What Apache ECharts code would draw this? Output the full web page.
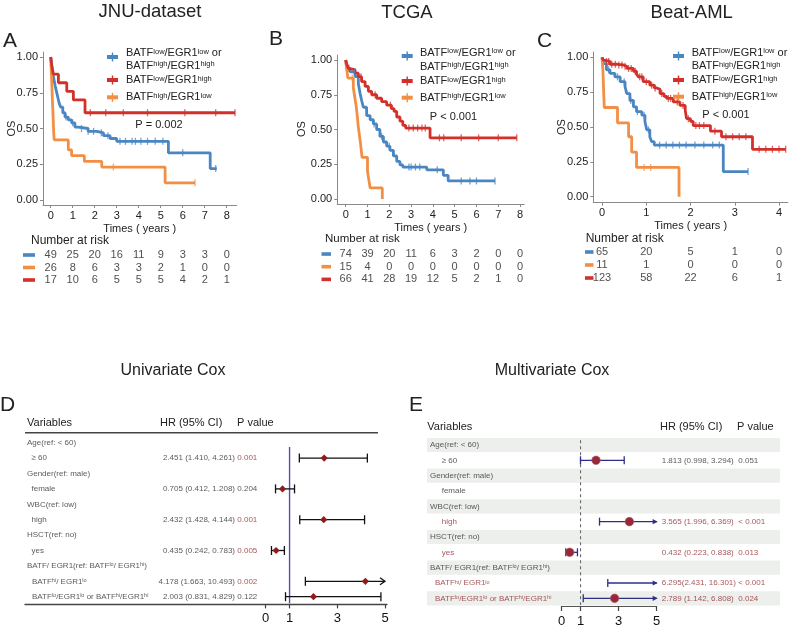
<!DOCTYPE html>
<html>
<head>
<meta charset="utf-8">
<script src="https://cdn.jsdelivr.net/npm/echarts@6.0.0/dist/echarts.min.js"></script>
<style>
html,body{margin:0;padding:0;background:#ffffff;}
#chart{width:790px;height:631px;}
</style>
</head>
<body>
<div id="chart"></div>
<script>
// ================= DATA =================
const jnuBlue = [[0,1],[0.03,0.96],[0.06,0.92],[0.1,0.88],[0.15,0.84],[0.2,0.8],[0.26,0.76],[0.32,0.72],[0.38,0.68],[0.45,0.65],[0.55,0.61],[0.65,0.58],[0.8,0.56],[0.95,0.54],[1.1,0.51],[1.25,0.5],[1.7,0.48],[2.1,0.47],[2.4,0.45],[2.7,0.43],[3.0,0.41],[5.35,0.33],[7.25,0.22],[7.55,0.22]];
const jnuRed = [[0,1],[0.05,0.94],[0.12,0.88],[0.35,0.82],[0.73,0.76],[1.03,0.7],[1.56,0.61],[8.38,0.61]];
const jnuOrange = [[0,1],[0.02,0.92],[0.04,0.85],[0.06,0.77],[0.08,0.69],[0.1,0.62],[0.12,0.54],[0.14,0.46],[0.16,0.42],[0.8,0.35],[0.95,0.31],[1.53,0.27],[2.32,0.23],[5.2,0.12],[6.56,0.12]];
const jnuBlueCens = [0.7,1.0,1.4,1.7,1.95,2.3,2.6,3.15,3.4,3.7,3.85,4.1,4.4,4.75,5.1,6.0,7.5];
const jnuRedCens = [1.8,2.5,3.3,4.4,6.1,7.5,8.38];
const jnuOrangeCens = [2.85,6.56];

const tcgaBlue = [[0,1],[0.05,0.94],[0.2,0.915],[0.43,0.88],[0.58,0.83],[0.66,0.76],[0.73,0.71],[0.81,0.66],[0.96,0.6],[1.12,0.57],[1.27,0.54],[1.42,0.5],[1.57,0.45],[1.73,0.41],[1.88,0.38],[2.03,0.35],[2.19,0.31],[2.34,0.27],[2.49,0.245],[2.62,0.23],[3.72,0.21],[4.48,0.17],[4.7,0.13],[6.85,0.13]];
const tcgaRed = [[0,1],[0.05,0.97],[0.12,0.94],[0.2,0.93],[0.43,0.905],[0.58,0.88],[0.73,0.845],[0.89,0.81],[1.04,0.775],[1.19,0.75],[1.42,0.725],[1.65,0.7],[1.88,0.675],[2.1,0.65],[2.22,0.63],[2.34,0.59],[2.49,0.56],[2.62,0.53],[2.75,0.51],[3.87,0.44],[7.85,0.44]];
const tcgaOrange = [[0,1],[0.05,0.93],[0.1,0.87],[0.35,0.8],[0.42,0.73],[0.48,0.67],[0.53,0.6],[0.57,0.53],[0.62,0.47],[0.68,0.4],[0.75,0.3],[1.0,0.2],[1.05,0.15],[1.12,0.08],[1.68,0]];
const tcgaBlueCens = [0.4,1.3,1.65,2.0,2.9,3.0,3.2,3.4,4.2,5.3,5.7,6.0,6.85];
const tcgaRedCens = [0.15,0.7,1.35,2.05,2.9,3.1,3.3,3.5,3.65,4.3,4.5,5.3,6.1,7.0,7.85];
const tcgaOrangeCens = [0.3];

const beatBlue = [[0,1],[0.03,0.955],[0.1,0.91],[0.18,0.885],[0.29,0.86],[0.41,0.825],[0.52,0.79],[0.56,0.74],[0.63,0.69],[0.71,0.645],[0.78,0.61],[0.9,0.585],[0.97,0.54],[1.01,0.48],[1.08,0.43],[1.12,0.395],[1.18,0.37],[2.74,0.18],[3.3,0.18]];
const beatRed = [[0,1],[0.03,0.98],[0.07,0.97],[0.18,0.95],[0.35,0.945],[0.48,0.935],[0.56,0.92],[0.71,0.9],[0.78,0.88],[0.82,0.86],[0.93,0.825],[1.08,0.8],[1.18,0.78],[1.24,0.77],[1.31,0.74],[1.4,0.72],[1.46,0.705],[1.61,0.68],[1.76,0.655],[1.88,0.62],[1.91,0.56],[2.0,0.54],[2.06,0.51],[2.45,0.47],[2.7,0.43],[3.4,0.34],[4.15,0.34]];
const beatOrange = [[0,1],[0.02,0.91],[0.03,0.82],[0.04,0.73],[0.05,0.64],[0.35,0.53],[0.6,0.43],[0.67,0.32],[0.78,0.21],[1.74,0]];
const beatBlueCens = [0.15,0.35,0.5,0.65,0.8,0.95,1.05,1.3,1.45,1.6,1.75,1.9,2.1,2.3,2.5,2.65,3.3];
const beatRedCens = [0.1,0.15,0.22,0.3,0.38,0.45,0.52,0.6,0.66,0.75,0.85,0.9,1.0,1.12,1.2,1.35,1.5,1.55,1.7,1.83,1.95,2.12,2.2,2.3,2.55,2.8,2.95,3.1,3.25,3.55,3.7,3.85,4.0,4.15];
const beatOrangeCens = [0.95,1.1];

const riskTimes8 = [0,1,2,3,4,5,6,7,8];
const riskTimes4 = [0,1,2,3,4];
const jnuRiskBlue = [49,25,20,16,11,9,3,3,0];
const jnuRiskOrange = [26,8,6,3,3,2,1,0,0];
const jnuRiskRed = [17,10,6,5,5,5,4,2,1];
const tcgaRiskBlue = [74,39,20,11,6,3,2,0,0];
const tcgaRiskOrange = [15,4,0,0,0,0,0,0,0];
const tcgaRiskRed = [66,41,28,19,12,5,2,1,0];
const beatRiskBlue = [65,20,5,1,0];
const beatRiskOrange = [11,1,0,0,0];
const beatRiskRed = [123,58,22,6,1];

const kmXTicks8 = [0,1,2,3,4,5,6,7,8];
const kmXTicks4 = [0,1,2,3,4];
const kmYTicks = [0,0.25,0.5,0.75,1];
const pTexts = ['P = 0.002','P < 0.001','P < 0.001'];
const panelTitles = ['JNU-dataset','TCGA','Beat-AML'];
const legendLabels = [['BATF{s|low}/EGR1{s|low} or','BATF{s|high}/EGR1{s|high}'],['BATF{s|low}/EGR1{s|high}'],['BATF{s|high}/EGR1{s|low}']];

const coxRows = ['Age(ref: < 60)','≥ 60','Gender(ref: male)','female','WBC(ref: low)','high','HSCT(ref: no)','yes','BATF/ EGR1(ref: BATF{s|lo}/ EGR1{s|hi})','BATF{s|hi}/ EGR1{s|lo}','BATF{s|lo}/EGR1{s|lo} or BATF{s|hi}/EGR1{s|hi}'];
const coxRowLevel = [0,1,0,1,0,1,0,1,0,2,2];
const uniHR = [null,2.451,null,0.705,null,2.432,null,0.435,null,4.178,2.003];
const uniLo = [null,1.410,null,0.412,null,1.428,null,0.242,null,1.663,0.831];
const uniHi = [null,4.261,null,1.208,null,4.144,null,0.783,null,10.493,4.829];
const uniHRText = ['','2.451 (1.410, 4.261)','','0.705 (0.412, 1.208)','','2.432 (1.428, 4.144)','','0.435 (0.242, 0.783)','','4.178 (1.663, 10.493)','2.003 (0.831, 4.829)'];
const uniP = ['','0.001','','0.204','','0.001','','0.005','','0.002','0.122'];
const uniSig = [0,1,0,0,0,1,0,1,0,1,0];
const multiHR = [null,1.813,null,null,null,3.565,null,0.432,null,6.295,2.789];
const multiLo = [null,0.998,null,null,null,1.996,null,0.223,null,2.431,1.142];
const multiHi = [null,3.294,null,null,null,6.369,null,0.838,null,16.301,6.808];
const multiHRText = ['','1.813 (0.998, 3.294)','','','','3.565 (1.996, 6.369)','','0.432 (0.223, 0.838)','','6.295(2.431, 16.301)','2.789 (1.142, 6.808)'];
const multiP = ['','0.051','','','','< 0.001','','0.013','','< 0.001','0.024'];
const multiSig = [0,0,0,0,0,1,0,1,0,1,1];
const forestTicks = [0,1,3,5];
const coxHeaders = ['Variables','HR (95% CI)','P value'];
const coxTitles = ['Univariate Cox','Multivariate Cox'];

// ================= STYLE / LAYOUT =================
const FONT = '"Liberation Sans", Arial, Helvetica, sans-serif';
const COL = {blue:'#4A86C1', red:'#D3302B', orange:'#F28F45'};
const DARK = '#222222';
const GREYTXT = '#2f2f2f';
const SIGC = '#8E2B2E';

const grids = [], xAxes = [], yAxes = [], series = [], graphics = [];

function survAt(curve, t){
  let s = curve[0][1];
  for (const p of curve){ if (p[0] <= t + 1e-9) s = p[1]; else break; }
  return s;
}
function txt(x, y, text, o){
  o = o || {};
  return {type:'text', x:x, y:y, rotation:o.rot||0, silent:true, z:50,
    style:{text:text, fill:o.fill||DARK, fontSize:o.size||11, fontFamily:FONT,
      align:o.align||'left', verticalAlign:o.va||'middle', rich:o.rich}};
}

const kmPanels = [
  {letter:'A', letterX:3, letterY:41, titleX:150, titleY:12,
   grid:{left:43, top:52, width:193.6, height:153}, xr:[-0.35,8.45], yr:[-0.035,1.035], xTicks:kmXTicks8, nameGap:18,
   curves:{blue:jnuBlue, orange:jnuOrange, red:jnuRed}, cens:{blue:jnuBlueCens, orange:jnuOrangeCens, red:jnuRedCens},
   risk:{blue:jnuRiskBlue, orange:jnuRiskOrange, red:jnuRiskRed}, riskT:riskTimes8, riskGrid:{top:248.75, height:37.5},
   lg:{sx:107, tx:126, l1:53.3, l2:65.5, ks:57, kr:80, ko:97.3}, pX:159, pY:125, os:[12,128.5], nar:[31,241,12], dash:[23,12]},
  {letter:'B', letterX:269, letterY:39, titleX:407, titleY:13,
   grid:{left:337.2, top:55, width:187, height:149}, xr:[-0.39,8.19], yr:[-0.036,1.036], xTicks:kmXTicks8, nameGap:18,
   curves:{blue:tcgaBlue, orange:tcgaOrange, red:tcgaRed}, cens:{blue:tcgaBlueCens, orange:tcgaOrangeCens, red:tcgaRedCens},
   risk:{blue:tcgaRiskBlue, orange:tcgaRiskOrange, red:tcgaRiskRed}, riskT:riskTimes8, riskGrid:{top:247.7, height:38},
   lg:{sx:401.7, tx:420, l1:52.7, l2:66.7, ks:56, kr:81, ko:97.7}, pX:453.5, pY:117, os:[302,129], nar:[325,239,11.5], dash:[321.5,9.5]},
  {letter:'C', letterX:537, letterY:41, titleX:691.7, titleY:13,
   grid:{left:593.3, top:52, width:194.6, height:150.7}, xr:[-0.197,4.2], yr:[-0.043,1.038], xTicks:kmXTicks4, nameGap:17.5,
   curves:{blue:beatBlue, orange:beatOrange, red:beatRed}, cens:{blue:beatBlueCens, orange:beatOrangeCens, red:beatRedCens},
   risk:{blue:beatRiskBlue, orange:beatRiskOrange, red:beatRiskRed}, riskT:riskTimes4, riskGrid:{top:245.5, height:39},
   lg:{sx:673, tx:691.7, l1:52.7, l2:66, ks:56, kr:80, ko:96.7}, pX:726, pY:115, os:[561.7,127], nar:[585.7,239,12], dash:[585,8.5]}
];

const groups = ['blue','orange','red'];

kmPanels.forEach((P, pi) => {
  const gi = grids.length;
  grids.push(Object.assign({outerBoundsMode:'none', containLabel:false}, P.grid));
  const xi = xAxes.length, yi = yAxes.length;
  xAxes.push({gridIndex:gi, type:'value', min:P.xr[0], max:P.xr[1], position:'bottom',
    axisLine:{show:true, onZero:false, lineStyle:{color:'#8a8a8a', width:1}},
    axisTick:{show:true, customValues:P.xTicks, length:3, lineStyle:{color:'#8a8a8a'}},
    axisLabel:{show:true, customValues:P.xTicks, fontSize:11, color:DARK, margin:5, fontFamily:FONT},
    splitLine:{show:false},
    name:'Times ( years )', nameLocation:'middle', nameGap:P.nameGap,
    nameTextStyle:{fontSize:11, color:DARK, fontFamily:FONT}});
  yAxes.push({gridIndex:gi, type:'value', min:P.yr[0], max:P.yr[1], position:'left',
    axisLine:{show:true, onZero:false, lineStyle:{color:'#8a8a8a', width:1}},
    axisTick:{show:true, customValues:kmYTicks, length:3, lineStyle:{color:'#8a8a8a'}},
    axisLabel:{show:true, customValues:kmYTicks, fontSize:11, color:DARK, margin:5, fontFamily:FONT,
      formatter:v => Number(v).toFixed(2)},
    splitLine:{show:false}});
  groups.forEach(g => {
    series.push({type:'line', xAxisIndex:xi, yAxisIndex:yi, data:P.curves[g], step:'end',
      symbol:'none', silent:true, z:3, lineStyle:{color:COL[g], width:2.8}});
    series.push({type:'scatter', xAxisIndex:xi, yAxisIndex:yi, silent:true, z:4,
      data:P.cens[g].map(t => [t, survAt(P.curves[g], t)]),
      symbol:'rect', symbolSize:[1.3,7], itemStyle:{color:COL[g], opacity:0.75}});
  });

  const rg = grids.length;
  grids.push({outerBoundsMode:'none', containLabel:false, left:P.grid.left, width:P.grid.width, top:P.riskGrid.top, height:P.riskGrid.height});
  const rxi = xAxes.length, ryi = yAxes.length;
  xAxes.push({gridIndex:rg, type:'value', min:P.xr[0], max:P.xr[1], show:false});
  yAxes.push({gridIndex:rg, type:'value', min:-0.5, max:2.5, inverse:true, show:false});
  groups.forEach((g, gk) => {
    series.push({type:'scatter', xAxisIndex:rxi, yAxisIndex:ryi, silent:true, symbolSize:0.1,
      itemStyle:{color:'rgba(0,0,0,0)'}, z:5,
      data:P.risk[g].map((n, k) => [P.riskT[k], gk, n]),
      label:{show:true, position:'inside', formatter:p => String(p.value[2]), fontSize:11, color:DARK, fontFamily:FONT}});
    const rowH = P.riskGrid.height / 3;
    const yy = P.riskGrid.top + rowH * (gk + 0.5);
    graphics.push({type:'rect', silent:true, z:50, shape:{x:P.dash[0], y:yy - 1.8, width:P.dash[1], height:3.6}, style:{fill:COL[g]}});
  });
  graphics.push(txt(P.nar[0], P.nar[1], 'Number at risk', {size:P.nar[2]}));

  graphics.push(txt(P.titleX, P.titleY, panelTitles[pi], {size:18.5, align:'center'}));
  graphics.push(txt(P.letterX, P.letterY, P.letter, {size:21}));
  graphics.push(txt(P.os[0], P.os[1], 'OS', {size:11, align:'center', rot:Math.PI/2}));
  graphics.push(txt(P.pX, P.pY, pTexts[pi], {size:11, align:'center'}));

  const rich = {s:{fontSize:7.5, verticalAlign:'top', fontFamily:FONT, fill:DARK}};
  const keys = [[COL.blue, P.lg.ks], [COL.red, P.lg.kr], [COL.orange, P.lg.ko]];
  keys.forEach(k => {
    graphics.push({type:'rect', silent:true, z:50, shape:{x:P.lg.sx, y:k[1]-2, width:11, height:4}, style:{fill:k[0]}});
    graphics.push({type:'line', silent:true, z:51, shape:{x1:P.lg.sx+5.5, y1:k[1]-4.5, x2:P.lg.sx+5.5, y2:k[1]+4.5}, style:{stroke:k[0], lineWidth:1.4}});
  });
  graphics.push(txt(P.lg.tx, P.lg.l1, legendLabels[0][0], {size:11, rich:rich}));
  graphics.push(txt(P.lg.tx, P.lg.l2, legendLabels[0][1], {size:11, rich:rich}));
  graphics.push(txt(P.lg.tx, P.lg.kr, legendLabels[1][0], {size:11, rich:rich}));
  graphics.push(txt(P.lg.tx, P.lg.ko, legendLabels[2][0], {size:11, rich:rich}));
});

// ================= FOREST PLOTS =================
const NROW = coxRows.length;
const SUPRICH = {s:{fontSize:5.5, verticalAlign:'top', fontFamily:FONT}};

function forestRender(st){
  return function(params, api){
    const lo = api.value(0), hr = api.value(1), hi = api.value(2), r = api.value(3);
    const a = api.coord([Math.max(lo, 0), r]);
    const b = api.coord([Math.min(hi, st.xmax), r]);
    const c = api.coord([Math.min(hr, st.xmax), r]);
    const y = a[1];
    const ls = {stroke:st.line, lineWidth:st.lw};
    const kids = [
      {type:'line', shape:{x1:a[0], y1:y, x2:b[0], y2:y}, style:ls},
      {type:'line', shape:{x1:a[0], y1:y-st.cap, x2:a[0], y2:y+st.cap}, style:ls}
    ];
    if (hi <= st.xmax) {
      kids.push({type:'line', shape:{x1:b[0], y1:y-st.cap, x2:b[0], y2:y+st.cap}, style:ls});
    } else if (st.arrow === 'open') {
      kids.push({type:'polyline', shape:{points:[[b[0]-5, y-3.5],[b[0], y],[b[0]-5, y+3.5]]}, style:{stroke:st.line, lineWidth:st.lw, fill:null}});
    } else {
      kids.push({type:'polygon', shape:{points:[[b[0]-4, y-2.6],[b[0]+1, y],[b[0]-4, y+2.6]]}, style:{fill:st.line}});
    }
    if (hr <= st.xmax) {
      if (st.point === 'diamond') {
        kids.push({type:'polygon', shape:{points:[[c[0], y-3.6],[c[0]+3.6, y],[c[0], y+3.6],[c[0]-3.6, y]]}, style:{fill:st.pfill}});
      } else {
        kids.push({type:'circle', shape:{cx:c[0], cy:y, r:st.pr}, style:{fill:st.pfill, stroke:'#b0606c', lineWidth:0.6}});
      }
    }
    return {type:'group', children:kids};
  };
}
function refLineRender(st){
  return function(params, api){
    const cs = params.coordSys;
    const x = api.coord([api.value(0), 0])[0];
    return {type:'line', shape:{x1:x, y1:cs.y + st.inset, x2:x, y2:cs.y + cs.height - 1}, style:st.style};
  };
}

function textSeries(xi, yi, items){
  return {type:'scatter', xAxisIndex:xi, yAxisIndex:yi, silent:true, symbolSize:0.1, z:6,
    itemStyle:{color:'rgba(0,0,0,0)'},
    data: items.map(it => ({value:[it.x, it.r], t:it.t, label:{color:it.c, align:it.a}})),
    label:{show:true, position:'inside', verticalAlign:'middle', fontSize:8, fontFamily:FONT,
      formatter:p => p.data.t, rich:SUPRICH}};
}

const forestPanels = [
  {letter:'D', letterX:0, letterY:405, titleX:173, titleY:371,
   table:{left:25, top:435, width:362, height:169.4}, plot:{left:265.7, top:435, width:119.3, height:169.4},
   indent:[2, 6.5, 7], hrX:210, hrAlign:'right', pX:212.3,
   hr:uniHR, lo:uniLo, hi:uniHi, hrText:uniHRText, p:uniP, sig:uniSig, multi:false,
   head:[[27,423],[160,423],[237,423]]},
  {letter:'E', letterX:409, letterY:405, titleX:552, titleY:371,
   table:{left:427, top:437.3, width:353, height:168.7}, plot:{left:561.5, top:437.3, width:95.2, height:168.7},
   indent:[3, 14.7, 8], hrX:234.7, hrAlign:'left', pX:311.3,
   hr:multiHR, lo:multiLo, hi:multiHi, hrText:multiHRText, p:multiP, sig:multiSig, multi:true,
   head:[[427.3,426.7],[660,426.7],[737,426.7]]}
];

forestPanels.forEach((F, fi) => {
  const tg = grids.length;
  grids.push(Object.assign({outerBoundsMode:'none', containLabel:false}, F.table));
  const txi = xAxes.length, tyi = yAxes.length;
  xAxes.push({gridIndex:tg, type:'value', min:0, max:F.table.width, position:'bottom',
    axisLine:{show:!F.multi, onZero:false, lineStyle:{color:'#444', width:1.3}}, axisTick:{show:false}, axisLabel:{show:false}, splitLine:{show:false}});
  yAxes.push({gridIndex:tg, type:'value', min:-0.5, max:NROW - 0.5, inverse:true, show:false});

  if (F.multi) {
    series.push({type:'custom', xAxisIndex:txi, yAxisIndex:tyi, silent:true, z:1,
      data: coxRows.map((r, i) => [0, i]).filter(d => d[1] % 2 === 0),
      renderItem:(params, api) => {
        const yy = api.coord([0, api.value(1)])[1];
        const h = api.size([0, 1])[1];
        const cs = params.coordSys;
        return {type:'rect', shape:{x:cs.x, y:yy - h/2 + 0.6, width:cs.width, height:h - 1.2}, style:{fill:'#EDEFEC'}};
      }});
  }

  const items = [];
  coxRows.forEach((r, i) => {
    const rowSig = F.multi && F.sig[i];
    items.push({x:F.indent[coxRowLevel[i]], r:i, t:r, c: rowSig ? SIGC : GREYTXT, a:'left'});
    if (F.hrText[i]) items.push({x:F.hrX, r:i, t:F.hrText[i], c: rowSig ? SIGC : GREYTXT, a:F.hrAlign});
    if (F.p[i]) items.push({x:F.pX, r:i, t:F.p[i], c: F.sig[i] ? SIGC : GREYTXT, a:'left'});
  });
  series.push(textSeries(txi, tyi, items));

  const fg = grids.length;
  grids.push(Object.assign({outerBoundsMode:'none', containLabel:false}, F.plot));
  const fxi = xAxes.length, fyi = yAxes.length;
  xAxes.push({gridIndex:fg, type:'value', min:0, max:5, position:'bottom',
    axisLine:{show:F.multi, onZero:false, lineStyle:{color:'#555', width:1}},
    axisTick:{show:true, customValues:forestTicks, length:F.multi ? 5 : 4, lineStyle:{color:'#444', width:1.2}},
    axisLabel:{show:true, customValues:forestTicks, fontSize:13, color:'#111', margin:F.multi ? 9 : 8, fontFamily:FONT},
    splitLine:{show:false}});
  yAxes.push({gridIndex:fg, type:'value', min:-0.5, max:NROW - 0.5, inverse:true, show:false});

  series.push({type:'custom', xAxisIndex:fxi, yAxisIndex:fyi, silent:true, z:7,
    data:[[1, 0]],
    renderItem: refLineRender(F.multi
      ? {inset:3, style:{stroke:'#6a6a6a', lineWidth:1.1, lineDash:[3,3]}}
      : {inset:12, style:{stroke:'#5252AE', lineWidth:1.4}})});

  const st = F.multi
    ? {xmax:5, line:'#2E2E86', lw:1.3, cap:4, arrow:'filled', point:'circle', pr:4.3, pfill:'#962838'}
    : {xmax:5, line:'#111111', lw:1.3, cap:4.5, arrow:'open', point:'diamond', pfill:'#8F1C1C'};
  series.push({type:'custom', xAxisIndex:fxi, yAxisIndex:fyi, silent:true, z:8,
    data: coxRows.map((r, i) => [F.lo[i], F.hr[i], F.hi[i], i]).filter(d => d[1] !== null),
    dimensions:['lo','hr','hi','row'],
    encode:{x:[0,1,2], y:3},
    renderItem: forestRender(st)});

  coxHeaders.forEach((h, k) => graphics.push(txt(F.head[k][0], F.head[k][1], h, {size:11, fill:'#222'})));
  graphics.push(txt(F.titleX, F.titleY, coxTitles[fi], {size:16, align:'center'}));
  graphics.push(txt(F.letterX, F.letterY, F.letter, {size:21}));
  if (!F.multi) {
    graphics.push({type:'line', silent:true, z:50, shape:{x1:25, y1:432.7, x2:378, y2:432.7}, style:{stroke:'#444', lineWidth:1.4}});
  }
});

const chart = echarts.init(document.getElementById('chart'), null, {renderer:'canvas'});
chart.setOption({
  animation:false,
  backgroundColor:'#ffffff',
  textStyle:{fontFamily:FONT},
  grid:grids, xAxis:xAxes, yAxis:yAxes, series:series,
  graphic:{elements:graphics}
});
</script>
</body>
</html>
